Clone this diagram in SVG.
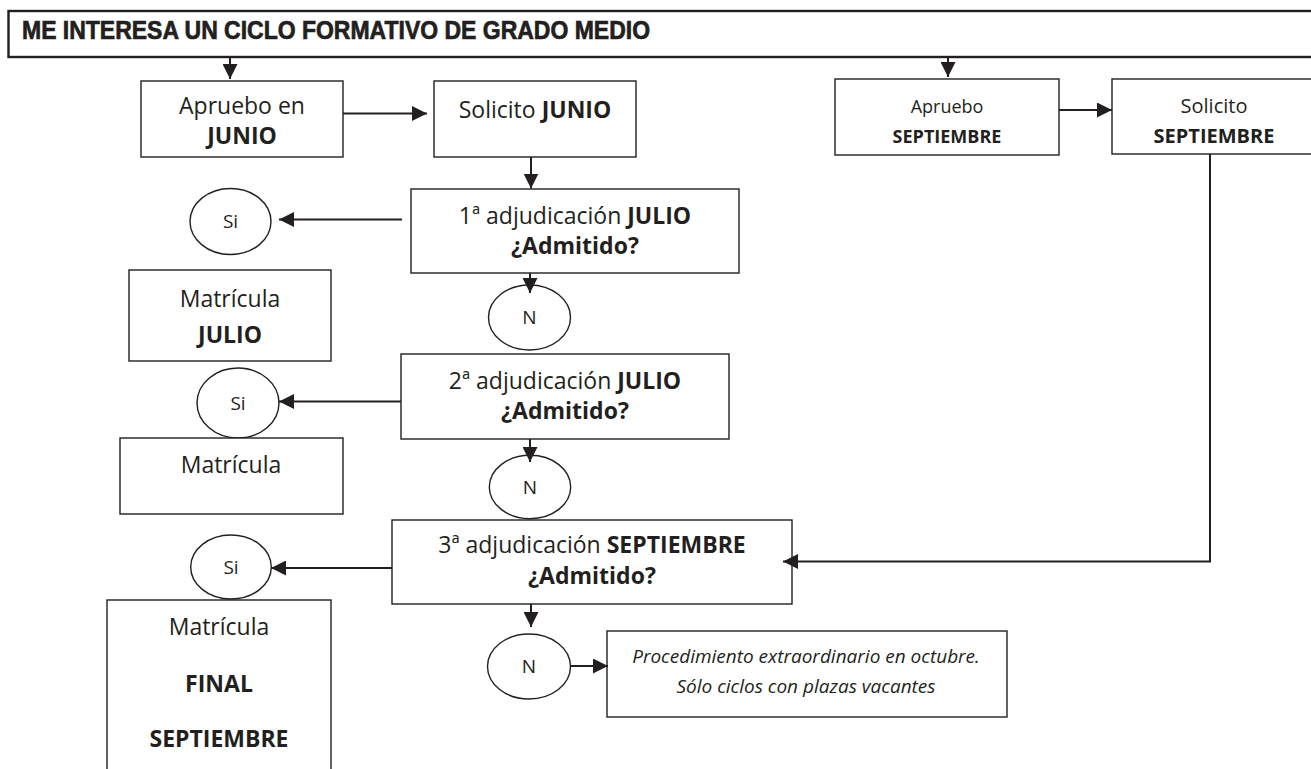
<svg xmlns="http://www.w3.org/2000/svg" width="1311" height="769" viewBox="0 0 1311 769">
<defs>
<style>
.box{fill:#fff;stroke:#231f20;stroke-width:1.4}
.tb{fill:#fff;stroke:#231f20;stroke-width:2.4}
.el{fill:#fff;stroke:#231f20;stroke-width:1.4}
.t{font-family:"Open Sans","Liberation Sans",sans-serif;font-size:23px;fill:#231f20;text-anchor:middle}
.b{font-weight:bold}
.m{font-size:18px}
.l{font-size:20px}
.s{font-family:"Open Sans","Liberation Sans",sans-serif;font-size:19px;fill:#231f20;text-anchor:middle}
.i{font-family:"Open Sans","Liberation Sans",sans-serif;font-size:19px;font-style:italic;fill:#231f20;text-anchor:middle}
.h{font-family:"Liberation Sans Narrow","Liberation Sans",Arial,sans-serif;font-weight:bold;font-size:26px;fill:#231f20;stroke:#231f20;stroke-width:0.7}
.c{fill:none;stroke:#231f20;stroke-width:2;marker-end:url(#ah)}
</style>
<marker id="ah" markerUnits="userSpaceOnUse" markerWidth="16" markerHeight="15" refX="15" refY="7.5" orient="auto"><path d="M0,0 L15,7.5 L0,15 z" fill="#231f20"/></marker>
</defs>
<rect width="1311" height="769" fill="#fff"/>

<g id="title">
<rect class="tb" x="8.5" y="11" width="1330" height="46"/>
<text class="h" x="22" y="39" textLength="628" lengthAdjust="spacingAndGlyphs">ME INTERESA UN CICLO FORMATIVO DE GRADO MEDIO</text>
</g>

<g id="aprueboJunio">
<rect class="box" x="141" y="81" width="202" height="76"/>
<text class="t" x="242" y="114">Apruebo en</text>
<text class="t b" x="242" y="144">JUNIO</text>
</g>

<g id="solicitoJunio">
<rect class="box" x="434" y="81" width="202" height="76"/>
<text class="t" x="535" y="118">Solicito <tspan class="b">JUNIO</tspan></text>
</g>

<g id="aprueboSept">
<rect class="box" x="835" y="79" width="224" height="76"/>
<text class="t m" x="947" y="113">Apruebo</text>
<text class="t m b" x="947" y="143">SEPTIEMBRE</text>
</g>

<g id="solicitoSept">
<rect class="box" x="1112" y="79" width="204" height="75"/>
<text class="t l" x="1214" y="113">Solicito</text>
<text class="t l b" x="1214" y="143">SEPTIEMBRE</text>
</g>

<g id="adj1">
<rect class="box" x="411" y="189" width="328" height="84"/>
<text class="t" x="575" y="224">1ª adjudicación <tspan class="b">JULIO</tspan></text>
<text class="t b" x="575" y="254">¿Admitido?</text>
</g>

<g id="si1">
<ellipse class="el" cx="230.5" cy="221.5" rx="40.5" ry="33"/>
<text class="s" x="230.5" y="228">Si</text>
</g>

<g id="matriculaJulio">
<rect class="box" x="129" y="270" width="202" height="91"/>
<text class="t" x="230" y="307">Matrícula</text>
<text class="t b" x="230" y="343">JULIO</text>
</g>

<g id="n1">
<ellipse class="el" cx="529.5" cy="317.5" rx="41" ry="32.5"/>
<text class="s" x="529.5" y="324">N</text>
</g>

<g id="adj2">
<rect class="box" x="401" y="354" width="328" height="85"/>
<text class="t" x="565" y="389">2ª adjudicación <tspan class="b">JULIO</tspan></text>
<text class="t b" x="565" y="419">¿Admitido?</text>
</g>

<g id="si2">
<ellipse class="el" cx="238" cy="403" rx="41" ry="35"/>
<text class="s" x="238" y="409.5">Si</text>
</g>

<g id="matricula2">
<rect class="box" x="120" y="438" width="223" height="76"/>
<text class="t" x="231" y="473">Matrícula</text>
</g>

<g id="n2">
<ellipse class="el" cx="530" cy="487" rx="40.7" ry="31.7"/>
<text class="s" x="530" y="493.5">N</text>
</g>

<g id="adj3">
<rect class="box" x="392" y="520" width="400" height="84"/>
<text class="t" x="592" y="553">3ª adjudicación <tspan class="b">SEPTIEMBRE</tspan></text>
<text class="t b" x="592" y="584">¿Admitido?</text>
</g>

<g id="si3">
<ellipse class="el" cx="231" cy="567" rx="40.3" ry="32"/>
<text class="s" x="231" y="573.5">Si</text>
</g>

<g id="matriculaFinal">
<rect class="box" x="107" y="600" width="224" height="190"/>
<text class="t" x="219" y="635">Matrícula</text>
<text class="t b" x="219" y="692">FINAL</text>
<text class="t b" x="219" y="747">SEPTIEMBRE</text>
</g>

<g id="n3">
<ellipse class="el" cx="529" cy="666.5" rx="41.5" ry="32.5"/>
<text class="s" x="529" y="673">N</text>
</g>

<g id="extraordinario">
<rect class="box" x="607" y="631" width="400" height="86"/>
<text class="i" x="806" y="663">Procedimiento extraordinario en octubre.</text>
<text class="i" x="806" y="693">Sólo ciclos con plazas vacantes</text>
</g>

<g id="connectors">
<path class="c" d="M230,57 V79"/>
<path class="c" d="M948,57 V77"/>
<path class="c" d="M343,113.5 H427"/>
<path class="c" d="M1059,110 H1112"/>
<path class="c" d="M531,157 V188.5"/>
<path class="c" d="M402,219.5 H279"/>
<path class="c" d="M530,273 V293"/>
<path class="c" d="M401,401.5 H279"/>
<path class="c" d="M530,439 V462"/>
<path class="c" d="M392,568 H271"/>
<path class="c" d="M531,604 V627"/>
<path class="c" d="M571,666 H608"/>
<path class="c" d="M1210,154 V561.5 H783"/>
</g>
</svg>
